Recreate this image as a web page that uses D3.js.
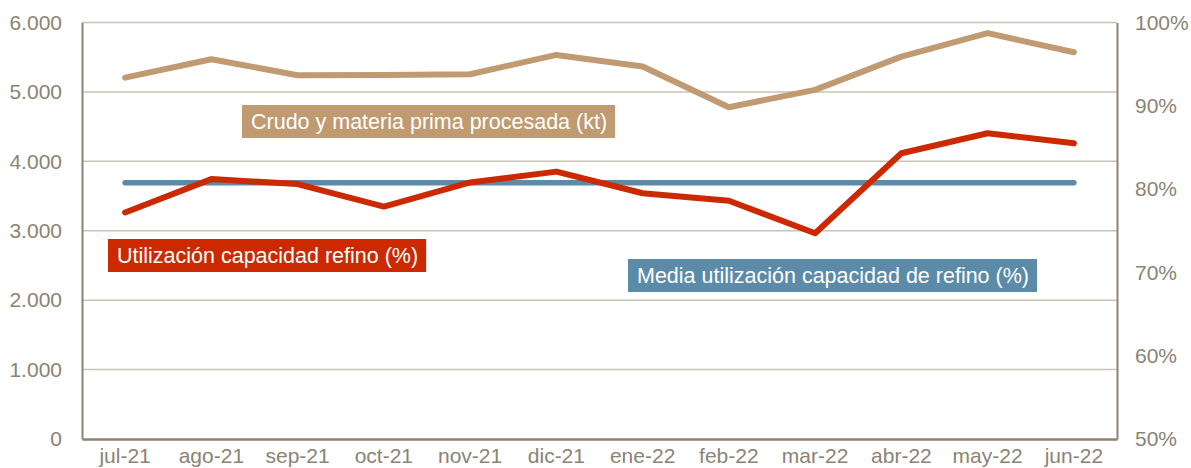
<!DOCTYPE html>
<html>
<head>
<meta charset="utf-8">
<script src="https://cdn.jsdelivr.net/npm/d3@7"></script>
<style>
  html, body { margin: 0; padding: 0; background: #fff; }
  svg { display: block; font-family: "Liberation Sans", Arial, sans-serif; }
</style>
</head>
<body>
<svg id="chart" width="1191" height="468"></svg>
<script>
// Monthly categories
const months = ["jul-21", "ago-21", "sep-21", "oct-21", "nov-21", "dic-21",
                "ene-22", "feb-22", "mar-22", "abr-22", "may-22", "jun-22"];
// Crude and feedstock processed (kt) — left axis
const crudo = [5206, 5471, 5241, 5245, 5255, 5533, 5365, 4780, 5029, 5509, 5846, 5572];
// Refining capacity utilisation (%) — right axis
const utilizacion = [77.2, 81.2, 80.6, 77.9, 80.8, 82.1, 79.5, 78.6, 74.7, 84.3, 86.7, 85.5];
// Axis ticks
const leftTicks = [0, 1000, 2000, 3000, 4000, 5000, 6000];
const rightTicks = [50, 60, 70, 80, 90, 100];

const svg = d3.select("#chart");
const plot = { left: 82, right: 1117, top: 22.5, bottom: 439 };
const fontSize = 21;
const labelFontSize = 21.5;

const x = d3.scaleBand().domain(months).range([plot.left, plot.right]);
const xc = d => x(d) + x.bandwidth() / 2;
const yL = d3.scaleLinear().domain([0, 6000]).range([plot.bottom, plot.top]);
const yR = d3.scaleLinear().domain([50, 100]).range([plot.bottom, plot.top]);

const axisColor = "#8b8373";
const gridColor = "#c9c3b6";
const fmt = d3.format(",");
const esNum = v => fmt(v).replace(/,/g, ".");

// Horizontal gridlines
svg.append("g").selectAll("line")
  .data(leftTicks.filter(t => t > 0))
  .join("line")
  .attr("x1", plot.left).attr("x2", plot.right)
  .attr("y1", d => yL(d)).attr("y2", d => yL(d))
  .attr("stroke", gridColor).attr("stroke-width", 1.5);

function styleAxis(g, w) {
  g.select(".domain").attr("stroke", axisColor).attr("stroke-width", w);
  g.selectAll("text").attr("fill", axisColor).attr("font-size", fontSize)
    .attr("font-family", "Liberation Sans, Arial, sans-serif");
}

// Left axis
svg.append("g").attr("transform", `translate(${plot.left},0)`)
  .call(d3.axisLeft(yL).tickValues(leftTicks).tickFormat(esNum).tickSize(0).tickPadding(20))
  .call(styleAxis, 2);

// Right axis
svg.append("g").attr("transform", `translate(${plot.right},0)`)
  .call(d3.axisRight(yR).tickValues(rightTicks).tickFormat(d => d + "%").tickSize(0).tickPadding(18))
  .call(styleAxis, 2);

// Bottom axis
svg.append("g").attr("transform", `translate(0,${plot.bottom})`)
  .call(d3.axisBottom(x).tickSize(0).tickPadding(9))
  .call(styleAxis, 2.5);

// Series lines
const lineL = d3.line().x((d, i) => xc(months[i])).y(d => yL(d));
const lineR = d3.line().x((d, i) => xc(months[i])).y(d => yR(d));

const media = d3.mean(utilizacion);
const mediaSeries = months.map(() => media);

svg.append("path").datum(mediaSeries).attr("d", lineR)
  .attr("fill", "none").attr("stroke", "#5b8ba8").attr("stroke-width", 5.5)
  .attr("stroke-linecap", "round");
svg.append("path").datum(crudo).attr("d", lineL)
  .attr("fill", "none").attr("stroke", "#c09a70").attr("stroke-width", 6)
  .attr("stroke-linecap", "round").attr("stroke-linejoin", "round");
svg.append("path").datum(utilizacion).attr("d", lineR)
  .attr("fill", "none").attr("stroke", "#cc2900").attr("stroke-width", 6)
  .attr("stroke-linecap", "round").attr("stroke-linejoin", "round");

// Series labels
const labels = [
  { text: "Crudo y materia prima procesada (kt)", x: 242, y: 105, color: "#c09a70" },
  { text: "Utilización capacidad refino (%)", x: 108, y: 239, color: "#cc2900" },
  { text: "Media utilización capacidad de refino (%)", x: 628, y: 259, color: "#5b8ba8" }
];
labels.forEach(l => {
  const g = svg.append("g");
  const t = g.append("text").attr("x", l.x + 9).attr("y", l.y + 24)
    .attr("fill", "#fff").attr("font-size", labelFontSize).text(l.text);
  const w = t.node().getComputedTextLength();
  g.insert("rect", "text").attr("x", l.x).attr("y", l.y)
    .attr("width", w + 17).attr("height", 33).attr("fill", l.color);
});
</script>
</body>
</html>
